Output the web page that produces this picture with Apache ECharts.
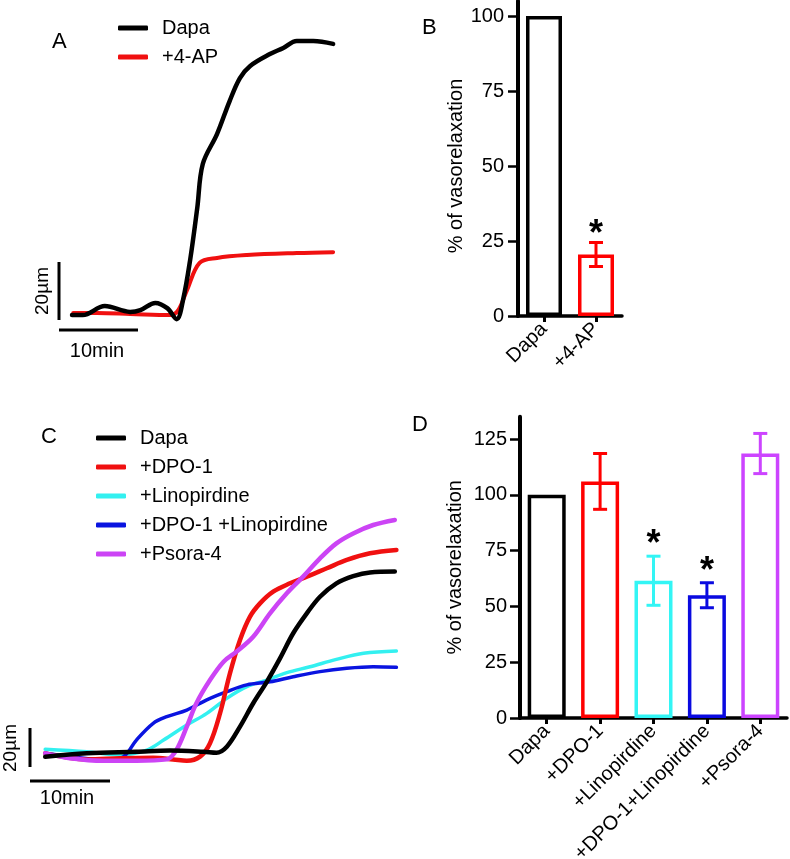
<!DOCTYPE html>
<html>
<head>
<meta charset="utf-8">
<script src="https://cdn.jsdelivr.net/npm/echarts@6/dist/echarts.min.js"></script>
<style>html,body{margin:0;padding:0;background:#fff}#c{width:790px;height:859px}</style>
</head>
<body>
<div id="c"></div>
<script>
// ---------- Panel A: diameter traces (time in min, change in µm) ----------
const aDapa = [[1.65,1.7],[3.0,1.7],[5.8,4.8],[9.0,2.8],[10.3,3.4],[12.2,5.9],[13.7,4.1],[14.9,0.3],[15.7,6.9],[16.6,20.7],[17.5,38.6],[18.2,53.8],[20.0,64.1],[21.6,75.5],[22.9,83.4],[24.2,87.6],[26.7,91.7],[28.4,93.8],[30.1,96.2],[32.2,96.2],[34.7,95.2]];
const a4AP = [[1.8,2.4],[4.8,2.4],[9.0,2.1],[14.1,1.7],[15.1,3.4],[16.2,10.3],[17.8,19.7],[20.0,21.4],[23.8,22.4],[30.1,23.1],[34.7,23.4]];

// ---------- Panel B: % vasorelaxation ----------
const catsB = ['Dapa', '+4-AP'];
const valsB = [100, 20.5];
const errB = [0, 4];
const sigB = [0, 1];
const ticksB = [0, 25, 50, 75, 100];

// ---------- Panel C: diameter traces ----------
const cDapa = [[1.9,5.3],[7.1,7.0],[13.3,7.8],[17.5,8.4],[21.7,7.8],[23.3,7.3],[24.6,10.4],[26.25,20.7],[27.9,32.7],[29.6,43.7],[31.25,55.7],[32.9,68.6],[34.6,78.8],[36.25,87.3],[38.3,94.2],[40.4,97.9],[42.5,99.8],[45.6,100.2]];
const cDPO = [[1.9,7.0],[7.1,3.9],[11.25,4.5],[15.4,4.8],[17.9,3.9],[19.6,3.2],[21.25,5.3],[22.5,12.2],[23.75,27.5],[25.0,48.1],[26.25,65.1],[27.5,77.1],[28.75,83.9],[30.4,89.9],[32.5,94.2],[34.6,97.6],[37.1,101.9],[39.6,106.2],[42.5,109.6],[45.8,111.3]];
const cLino = [[1.9,9.1],[7.1,7.8],[11.25,6.2],[14.6,8.7],[16.7,13.8],[19.6,21.5],[22.1,27.5],[24.6,35.2],[27.1,41.2],[29.6,44.6],[32.1,48.4],[35.0,51.4],[38.3,55.2],[41.7,58.3],[45.8,59.5]];
const cDPOLino = [[1.9,7.0],[5.0,5.3],[9.6,3.6],[11.7,5.3],[13.3,13.8],[15.4,22.4],[17.1,25.8],[19.6,29.2],[22.1,34.4],[24.6,38.6],[27.1,42.1],[30.0,43.7],[32.9,46.3],[36.25,48.9],[39.6,50.6],[42.9,51.4],[45.8,51.1]];
const cPsora = [[1.9,7.0],[5.0,4.5],[9.2,3.2],[13.3,3.2],[17.1,3.9],[18.3,8.7],[19.6,20.7],[20.8,32.7],[22.5,44.6],[24.2,54.0],[25.8,59.1],[27.9,66.8],[30.0,78.8],[32.1,89.1],[34.2,97.9],[36.25,107.0],[38.3,114.7],[40.4,119.8],[42.9,124.1],[45.6,126.7]];

// ---------- Panel D: % vasorelaxation ----------
const catsD = ['Dapa', '+DPO-1', '+Linopirdine', '+DPO-1+Linopirdine', '+Psora-4'];
const valsD = [100, 106, 61.5, 55, 118.5];
const errD = [0, 12.5, 11, 5.6, 9];
const sigD = [0, 0, 1, 1, 0];
const ticksD = [0, 25, 50, 75, 100, 125];

// scale bars (axis units)
const scaleV = [[0, 0], [0, 20]];
const scaleHA = [[0, -3.45], [10, -3.45]];
const scaleHC = [[0, -7.2], [10, -7.2]];

const FONT = '"Liberation Sans", Arial, sans-serif';
const FS = 20;
const colorsB = ['#000000', '#ff0000'];
const colorsD = ['#000000', '#ff0000', '#33f5f5', '#0a0ae0', '#cc44ff'];

const chart = echarts.init(document.getElementById('c'), null, {renderer: 'canvas'});

function traceLine(name, data, color, width, gi) {
  return {type: 'line', name, data, xAxisIndex: gi, yAxisIndex: gi, smooth: 0.35, showSymbol: false, symbol: 'none',
    color, lineStyle: {color, width, cap: 'round', join: 'round'}, silent: true, animation: false, clip: false};
}
function barLine(data, gi) {
  return {type: 'line', data, xAxisIndex: gi, yAxisIndex: gi, showSymbol: false, symbol: 'none',
    lineStyle: {color: '#000', width: 3}, silent: true, animation: false, clip: false};
}
function errSeries(vals, errs, sig, colors, gi, starGap) {
  return {type: 'custom', xAxisIndex: gi, yAxisIndex: gi, z: 5, animation: false, silent: true,
    data: vals.map((v, i) => [i, v, errs[i], sig[i]]),
    renderItem(params, api) {
      const x = api.value(0), v = api.value(1), e = api.value(2), s = api.value(3);
      const col = colors[params.dataIndex];
      const ch = [];
      const top = api.coord([x, v + e]);
      if (e > 0) {
        const bot = api.coord([x, v - e]);
        const hw = 7;
        const st = {stroke: col, lineWidth: 3};
        ch.push({type: 'line', shape: {x1: top[0], y1: top[1], x2: bot[0], y2: bot[1]}, style: st});
        ch.push({type: 'line', shape: {x1: top[0] - hw, y1: top[1], x2: top[0] + hw, y2: top[1]}, style: st});
        ch.push({type: 'line', shape: {x1: bot[0] - hw, y1: bot[1], x2: bot[0] + hw, y2: bot[1]}, style: st});
      }
      if (s) {
        ch.push({type: 'text', x: top[0], y: top[1] - starGap, style: {text: '*', font: 'bold 36px ' + FONT, fill: '#000', align: 'center', verticalAlign: 'middle'}});
      }
      return {type: 'group', children: ch};
    }};
}
function catAxis(gi, cats) {
  return {gridIndex: gi, type: 'category', data: cats,
    axisLine: {show: true, lineStyle: {color: '#000', width: 3.5}},
    axisTick: {show: true, alignWithLabel: true, length: 6, lineStyle: {color: '#000', width: 3}},
    axisLabel: {interval: 0, rotate: 45, margin: 10, fontSize: FS, fontFamily: FONT, color: '#000'},
    splitLine: {show: false}};
}
function valAxis(gi, max, ticks, gap, margin, pad) {
  return {gridIndex: gi, type: 'value', min: 0, max,
    axisLine: {show: true, lineStyle: {color: '#000', width: 4}},
    axisTick: {show: true, length: 10, customValues: ticks, lineStyle: {color: '#000', width: 2.5}},
    axisLabel: {customValues: ticks, margin, fontSize: FS, fontFamily: FONT, color: '#000'},
    splitLine: {show: false},
    name: '% of vasorelaxation', nameLocation: 'middle', nameGap: gap,
    nameTextStyle: {fontSize: FS, fontFamily: FONT, color: '#000', padding: pad}};
}
const hidden = (gi, min, max) => ({gridIndex: gi, type: 'value', min, max, show: false});

const legendCommon = {orient: 'vertical', padding: 0, itemWidth: 30, itemHeight: 5, itemGap: 9, icon: 'roundRect', selectedMode: false,
  textStyle: {fontSize: FS, fontFamily: FONT, color: '#000', padding: [0, 0, 0, 9]}};

chart.setOption({
  animation: false,
  backgroundColor: '#fff',
  grid: [
    {left: 59, top: 30, width: 316, height: 319, outerBoundsMode: 'none'},
    {left: 518, top: 1, width: 104, height: 315, outerBoundsMode: 'none'},
    {left: 30, top: 503.75, width: 376, height: 282.75, outerBoundsMode: 'none'},
    {left: 520, top: 416.7, width: 267, height: 301.3, outerBoundsMode: 'none'}
  ],
  xAxis: [hidden(0, 0, 40), catAxis(1, catsB), hidden(2, 0, 47), catAxis(3, catsD)],
  yAxis: [hidden(0, -10, 100), valAxis(1, 105, ticksB, 46, 14, [0, 15, 0, 0]), hidden(2, -10, 135), valAxis(3, 135, ticksD, 55, 13, [0, 0, 0, 0])],
  legend: [
    Object.assign({}, legendCommon, {left: 118, top: 18, data: ['Dapa', '+4-AP']}),
    Object.assign({}, legendCommon, {left: 96, top: 428, data: ['Dapa', '+DPO-1', '+Linopirdine', '+DPO-1 +Linopirdine', '+Psora-4']})
  ],
  series: [
    traceLine('+4-AP', a4AP, '#f01010', 4, 0),
    traceLine('Dapa', aDapa, '#000000', 4.5, 0),
    barLine(scaleV, 0), barLine(scaleHA, 0),
    {type: 'bar', xAxisIndex: 1, yAxisIndex: 1, barWidth: 36, animation: false, silent: true,
      itemStyle: {color: '#fff', borderWidth: 3.5},
      data: valsB.map((v, i) => ({value: v, itemStyle: {borderColor: colorsB[i]}}))},
    errSeries(valsB, errB, sigB, colorsB, 1, 7),
    traceLine('+Linopirdine', cLino, '#33f0f0', 3.5, 2),
    traceLine('+DPO-1 +Linopirdine', cDPOLino, '#0a14e0', 3.5, 2),
    traceLine('+DPO-1', cDPO, '#f01010', 4.5, 2),
    traceLine('+Psora-4', cPsora, '#cc44f5', 4.5, 2),
    traceLine('Dapa', cDapa, '#000000', 4.5, 2),
    barLine(scaleV, 2), barLine(scaleHC, 2),
    {type: 'bar', xAxisIndex: 3, yAxisIndex: 3, barWidth: 38, animation: false, silent: true,
      itemStyle: {color: '#fff', borderWidth: 3.5},
      data: valsD.map((v, i) => ({value: v, itemStyle: {borderColor: colorsD[i]}}))},
    errSeries(valsD, errD, sigD, colorsD, 3, 11)
  ],
  graphic: [
    {type: 'text', x: 52, y: 42, style: {text: 'A', font: '22px ' + FONT, fill: '#000', verticalAlign: 'middle'}},
    {type: 'text', x: 422, y: 28, style: {text: 'B', font: '22px ' + FONT, fill: '#000', verticalAlign: 'middle'}},
    {type: 'text', x: 41, y: 437, style: {text: 'C', font: '22px ' + FONT, fill: '#000', verticalAlign: 'middle'}},
    {type: 'text', x: 412, y: 425, style: {text: 'D', font: '22px ' + FONT, fill: '#000', verticalAlign: 'middle'}},
    {type: 'text', x: 43, y: 291, rotation: Math.PI / 2, style: {text: '20µm', font: '19px ' + FONT, fill: '#000', align: 'center', verticalAlign: 'middle'}},
    {type: 'text', x: 97, y: 351, style: {text: '10min', font: '20px ' + FONT, fill: '#000', align: 'center', verticalAlign: 'middle'}},
    {type: 'text', x: 11, y: 748, rotation: Math.PI / 2, style: {text: '20µm', font: '19px ' + FONT, fill: '#000', align: 'center', verticalAlign: 'middle'}},
    {type: 'text', x: 67, y: 798, style: {text: '10min', font: '20px ' + FONT, fill: '#000', align: 'center', verticalAlign: 'middle'}}
  ]
});
</script>
</body>
</html>
